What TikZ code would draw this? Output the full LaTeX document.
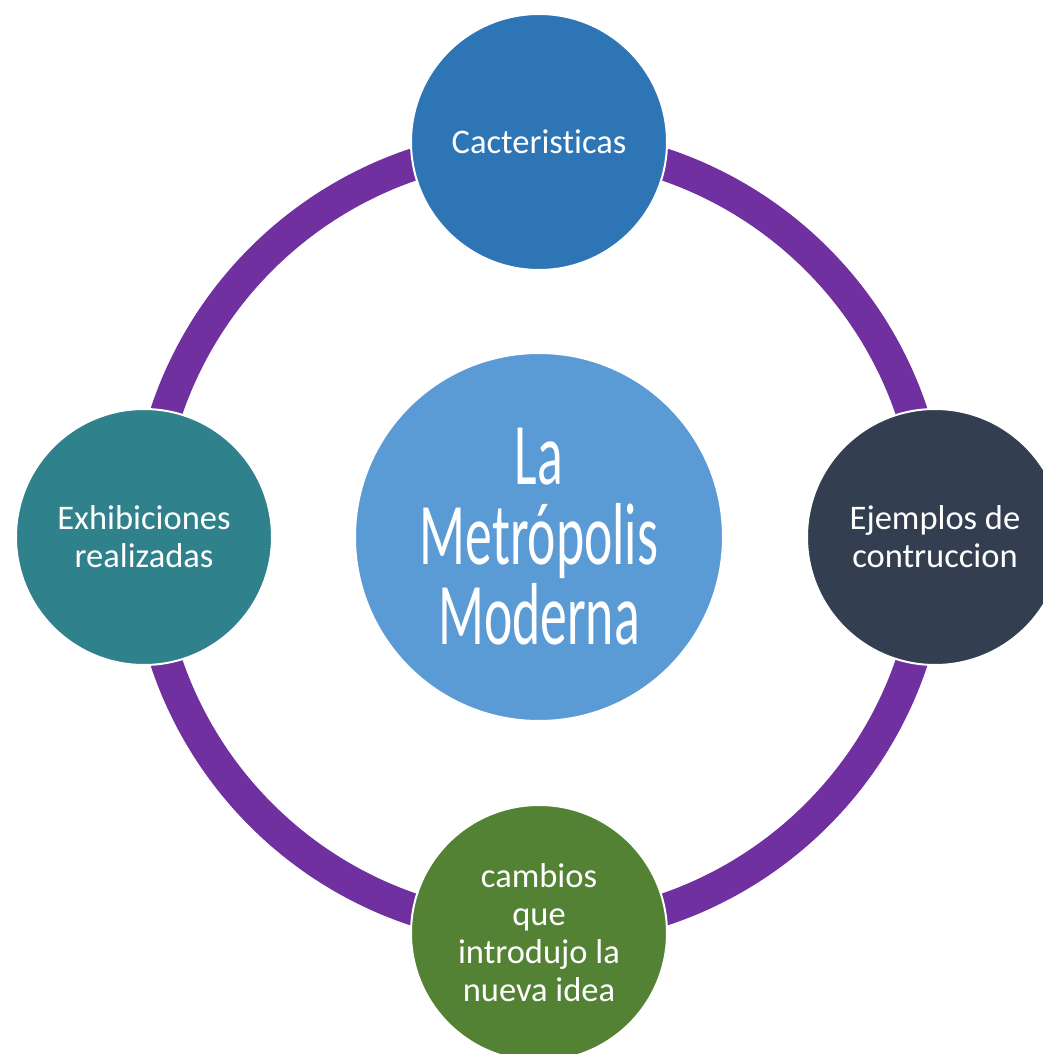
\documentclass[tikz,border=0pt]{standalone}
\usepackage{fontspec}
\setmainfont{Carlito}[Ligatures=NoCommon]
\newfontfamily\hubfont[FakeStretch=0.61,Ligatures=NoCommon]{Carlito}
\usepackage{xcolor}
\usepackage{tikz}
\usetikzlibrary{positioning,backgrounds}

\definecolor{hubblue}{HTML}{5B9BD5}
\definecolor{topblue}{HTML}{2E75B6}
\definecolor{slate}{HTML}{333F50}
\definecolor{leafgreen}{HTML}{548235}
\definecolor{teal}{HTML}{2F818B}
\definecolor{ringpurple}{HTML}{7030A0}

\begin{document}
\begin{tikzpicture}[
    x=1pt, y=1pt,
    node distance=81pt,
    hub/.style={circle, draw=white, line width=2pt, fill=hubblue, minimum size=368pt, inner sep=0pt, align=center, text=white, font=\hubfont\fontsize{88}{80}\selectfont},
    topic/.style={circle, draw=white, line width=2pt, fill=#1, minimum size=256pt, inner sep=0pt, align=center, text=white, font=\fontsize{34.5}{38}\selectfont},
    ring/.style={draw=ringpurple, line width=32pt},
]
\useasboundingbox (-539,-517) rectangle (503,537);

\node[hub] (metro) at (0,0) {La\\Metrópolis\\Moderna};
\node[topic=topblue, above=of metro] (carac) {Cacteristicas};
\node[topic=slate, right=82pt of metro] (ejemplos) {Ejemplos de\\contruccion};
\node[topic=leafgreen, below=82pt of metro] (cambios) {cambios\\que\\introdujo la\\nueva idea};
\node[topic=teal, left=81pt of metro] (exhib) {Exhibiciones\\realizadas};

\begin{scope}[on background layer]
\draw[ring] (metro.center) circle[radius=393pt];
\end{scope}
\end{tikzpicture}
\end{document}
